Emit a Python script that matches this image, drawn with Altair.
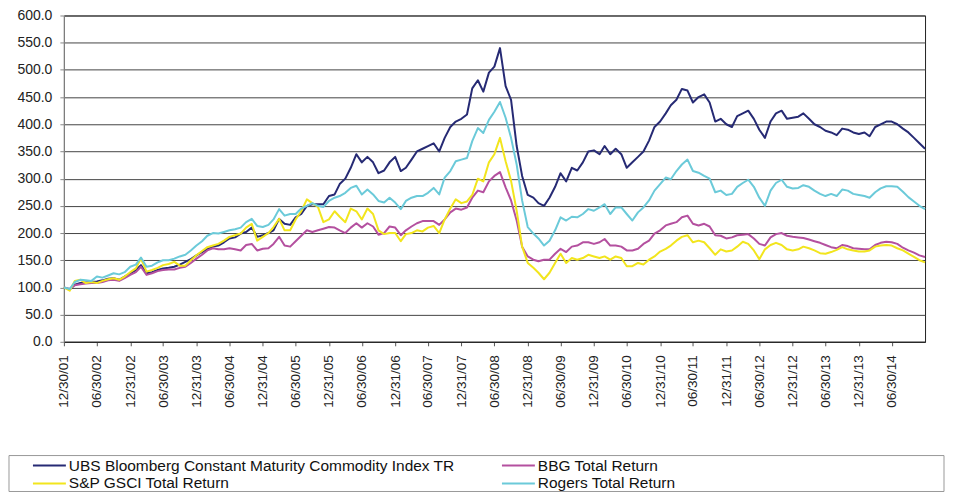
import altair as alt
import pandas as pd

# ---- series names (drawing order) ----
series_names = [
    "UBS Bloomberg Constant Maturity Commodity Index TR",
    "BBG Total Return",
    "S&P GSCI Total Return",
    "Rogers Total Return",
]
series_colors = ["#262A74", "#B4509F", "#F2E51D", "#6BCAD9"]
# legend fills column by column: col 1 = UBS, S&P ; col 2 = BBG, Rogers
legend_order = [series_names[0], series_names[2], series_names[1], series_names[3]]
legend_colors = [series_colors[0], series_colors[2], series_colors[1], series_colors[3]]

# ---- monthly observation dates: 12/30/01 then month ends to Dec 2014 ----
month_ends = pd.date_range("2001-12-31", periods=157, freq="ME")
dates = [d.strftime("%Y-%m-%d") for d in month_ends]
dates[0] = "2001-12-30"

# ---- values (Dec 2001 .. Dec 2014, monthly) ----
ubs = [
    100, 96, 105, 108, 109, 110, 111, 113, 116, 117, 114, 120,
    126, 132, 141, 126, 128, 132, 135, 136, 138, 142, 147, 152,
    159, 165, 171, 175, 177, 183, 190, 192, 199, 202, 210, 193,
    196, 200, 205, 226, 217, 215, 229, 235, 250, 253, 253, 253,
    268, 271, 290, 300, 320, 345, 330, 340, 330, 310, 315, 330,
    340, 314, 320, 335, 350, 355, 360, 365, 350, 375, 395, 405,
    410, 418, 466, 481, 460, 495, 506, 540, 470, 445, 360, 305,
    270, 265, 255, 250, 265, 285, 310, 295, 320, 315, 330, 350,
    352, 345, 360, 345, 355, 345, 320, 330, 340, 350, 370, 395,
    405, 420, 435, 445, 465, 462, 440, 450, 455, 440, 405, 410,
    400, 395, 415, 420, 425, 410, 390, 375, 405, 420, 425, 410,
    412, 414, 420, 410, 400, 395, 388, 385, 380, 392, 390, 385,
    382, 385, 378, 395, 400, 405, 405, 400, 392, 385, 375, 365,
    355,
]
bbg = [
    100, 97, 104, 106, 107, 108, 108, 110, 113, 114, 112, 117,
    123, 128, 138, 123, 126, 130, 132, 133, 133, 136, 138, 145,
    153, 160, 168, 172, 170, 170, 172, 170, 168, 178, 180, 168,
    171, 172, 180, 193, 177, 175, 185, 195, 205, 202, 205, 208,
    211, 210, 205, 200, 210, 218, 210, 218, 212, 197, 200, 212,
    210, 196, 205, 212, 218, 222, 222, 222, 215, 225, 238, 245,
    243, 247, 265, 278, 275, 295, 305, 312, 284, 260, 223, 175,
    157, 151, 148, 151, 151, 162, 171, 165, 175, 177, 183, 183,
    180, 183, 189, 177, 177, 175, 168, 168, 171, 180, 186, 199,
    205, 214, 217, 220, 229, 232, 217, 214, 217, 212, 196, 195,
    190, 192, 196, 197, 198, 190, 180, 177, 192, 198, 200, 195,
    193, 192, 191, 188, 185, 182, 178, 174, 172, 178, 176, 172,
    171, 170, 170, 178, 182, 184, 183, 180, 173, 168, 164, 159,
    156,
]
gsci = [
    100, 94, 112, 114, 108, 110, 108, 112, 115, 117, 114, 120,
    128, 135, 153, 129, 132, 136, 141, 143, 147, 140, 140, 150,
    159, 167, 174, 177, 180, 186, 193, 196, 199, 210, 217, 186,
    193, 200, 211, 226, 205, 205, 225, 240, 262, 255, 248, 220,
    225, 240, 230, 220, 245, 240, 225, 245, 235, 205, 198, 200,
    200, 185, 198, 200, 205, 203, 210, 213, 200, 225, 245, 262,
    255, 258, 270, 300, 295, 330, 345, 375, 332, 296, 241, 175,
    145, 136, 127, 115, 127, 145, 162, 145, 154, 151, 154, 160,
    157, 154, 157, 151, 157, 154, 139, 139, 145, 142, 151, 157,
    166, 171, 177, 186, 193, 196, 183, 186, 183, 172, 160, 170,
    166, 168, 175, 184, 180, 168, 152, 170, 178, 182, 178, 170,
    168, 170, 175, 172, 168, 163, 162, 165, 169, 174, 170, 168,
    166, 166, 168, 175, 177, 178, 177, 172, 168, 162, 156, 150,
    146,
]
rogers = [
    100, 97, 110, 114, 113, 112, 120, 118, 122, 126, 124, 128,
    138, 142, 155, 138, 140, 146, 150, 150, 153, 157, 160, 168,
    177, 185, 195, 200, 199, 202, 205, 207, 210, 220, 226, 213,
    211, 215, 225, 244, 232, 235, 235, 245, 250, 255, 250, 248,
    259, 265, 268, 274, 283, 287, 271, 280, 271, 259, 256, 265,
    256, 244, 259, 265, 268, 268, 274, 283, 271, 302, 314, 332,
    335, 338, 369, 393, 384, 408, 423, 441, 412, 375, 326, 260,
    211, 199, 190, 177, 186, 205, 229, 223, 230, 229, 235, 244,
    241, 247, 253, 235, 247, 247, 235, 223, 238, 247, 260, 278,
    290, 302, 299, 314, 326, 335, 314, 311, 305, 300, 275, 278,
    270, 272, 285, 292, 298, 285, 265, 250, 278, 292, 298, 285,
    282, 283, 288, 285, 278, 272, 268, 272, 268, 280, 278, 272,
    270, 268, 265, 275, 282, 286, 286, 285, 276, 266, 258, 250,
    244,
]

# ---- axis tick labels ----
x_tick_dates = ["2001-12-30"]
for yr in range(2002, 2015):
    x_tick_dates.append(f"{yr}-06-30")
    if yr < 2014:
        x_tick_dates.append(f"{yr}-12-31")
y_ticks = list(range(0, 601, 50))

# ---- long table ----
rows = []
for name, vals in zip(series_names, [ubs, bbg, gsci, rogers]):
    for d, v in zip(dates, vals):
        rows.append({"date": d, "series": name, "value": v})
df = pd.DataFrame(rows)


def dt(s):
    y, m, d = (int(p) for p in s.split("-"))
    return alt.DateTime(year=y, month=m, date=d, utc=True)


x_enc = alt.X(
    "date:T",
    title=None,
    scale=alt.Scale(type="utc", domain=[dt("2001-12-30"), dt("2014-12-31")]),
    axis=alt.Axis(
        values=[dt(s) for s in x_tick_dates],
        labelExpr="utcFormat(datum.value, '%m/%d/%y')",
        labelAngle=-90,
        labelFontSize=13.5,
        labelPadding=9,
        tickSize=4,
        tickColor="#555555",
        domainColor="#222222",
        grid=False,
    ),
)
y_enc = alt.Y(
    "value:Q",
    title=None,
    scale=alt.Scale(domain=[0, 600], nice=False),
    axis=alt.Axis(
        values=y_ticks,
        format=".1f",
        labelFontSize=14,
        labelPadding=8,
        tickSize=4,
        tickColor="#888888",
        domainColor="#888888",
        grid=True,
        gridColor="#444444",
        gridWidth=1,
    ),
)
color_enc = alt.Color(
    "series:N",
    scale=alt.Scale(domain=legend_order, range=legend_colors),
    legend=alt.Legend(
        orient="none",
        legendX=-32,
        legendY=442,
        title=None,
        columns=2,
        gridAlign="all",
        columnPadding=46,
        rowPadding=0,
        clipHeight=18,
        padding=0,
        symbolType="stroke",
        symbolSize=1089,
        symbolStrokeWidth=2,
        labelFontSize=15.5,
        labelFont="Liberation Sans",
        labelColor="#111111",
        labelOffset=2,
        labelLimit=600,
        labelExpr="indexof(datum.label, 'UBS') == 0 ? '\u00a0' + datum.label : datum.label",
    ),
)

base = alt.Chart(df)
lines = [
    base.transform_filter(alt.datum.series == name)
    .mark_line(strokeWidth=2, strokeJoin="round")
    .encode(x=x_enc, y=y_enc, color=color_enc)
    for name in series_names
]

legend_frame = (
    alt.Chart(alt.Data(values=[{}]))
    .mark_rect(filled=False, stroke="#999999", strokeWidth=1)
    .encode(x=alt.value(-55), x2=alt.value(882), y=alt.value(441), y2=alt.value(477))
)

chart = (
    alt.layer(*lines, legend_frame)
    .properties(
        width=863,
        height=327,
        autosize=alt.AutoSizeParams(type="none"),
        padding={"left": 56, "top": 7, "right": 20, "bottom": 150},
        background="white",
    )
    .configure_view(stroke="#222222", strokeWidth=1)
    .configure_axis(labelFont="Liberation Sans", labelColor="#222222")
)

chart.save("out.html", embed_options={"renderer": "svg", "actions": False})
